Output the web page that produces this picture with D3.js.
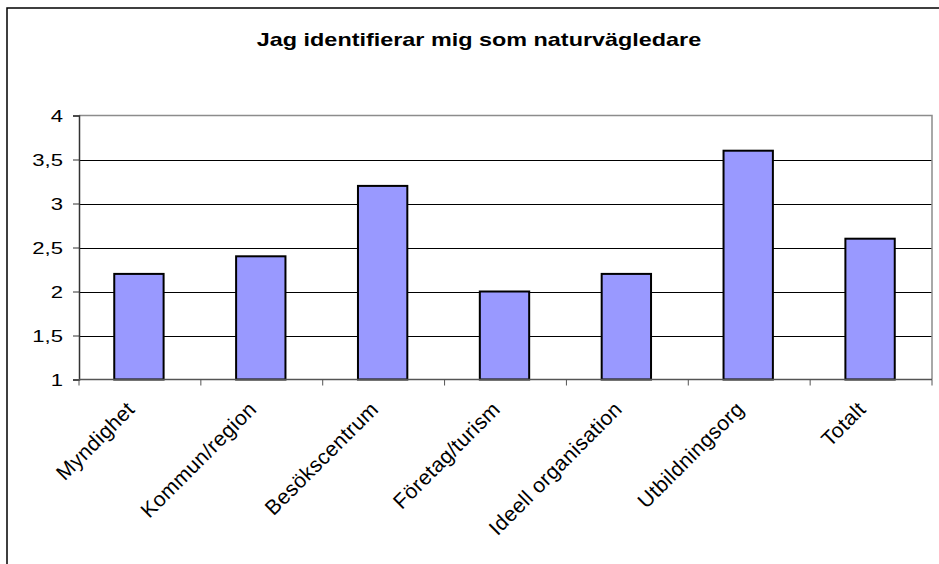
<!DOCTYPE html>
<html>
<head>
<meta charset="utf-8">
<script src="https://cdn.jsdelivr.net/npm/d3@7"></script>
<style>
  body { margin: 0; background: #fff; }
  svg { display: block; font-family: Arial, "Liberation Sans", sans-serif; }
</style>
</head>
<body>
<svg id="chart"></svg>
<script>
// data
var categories = ["Myndighet", "Kommun/region", "Besökscentrum", "Företag/turism",
                  "Ideell organisation", "Utbildningsorg", "Totalt"];
var values = [2.2, 2.4, 3.2, 2.0, 2.2, 3.6, 2.6];
var yTicks = [1, 1.5, 2, 2.5, 3, 3.5, 4];
var title = "Jag identifierar mig som naturvägledare";

var width = 939, height = 564;
var sx = 1.3; // the original text is stretched sideways
var svg = d3.select("#chart").attr("width", width).attr("height", height);

// outer frame (runs off the right/bottom edge like the original)
svg.append("rect")
    .attr("x", 7).attr("y", 8)
    .attr("width", 960).attr("height", 600)
    .attr("fill", "none")
    .attr("stroke", "#000")
    .attr("stroke-width", 1.5);

var plotLeft = 79, plotRight = 932, plotTop = 115.5, plotBottom = 379.5;

var x = d3.scaleBand().domain(categories).range([plotLeft, plotRight]).padding(0);
var y = d3.scaleLinear().domain([1, 4]).range([plotBottom, plotTop]);

// gridlines
svg.append("g").selectAll("line")
    .data(yTicks.filter(function (d) { return d > 1 && d < 4; }))
    .enter().append("line")
    .attr("x1", plotLeft).attr("x2", plotRight)
    .attr("y1", function (d) { return Math.round(y(d)) + 0.5; })
    .attr("y2", function (d) { return Math.round(y(d)) + 0.5; })
    .attr("stroke", "#000")
    .attr("stroke-width", 1);

// plot border top/right (gray)
svg.append("path")
    .attr("d", "M" + plotLeft + "," + plotTop + "H" + plotRight + "V" + plotBottom)
    .attr("fill", "none")
    .attr("stroke", "#8c8c8c")
    .attr("stroke-width", 1.5);

// bars
var barW = x.bandwidth() * 0.405;
svg.append("g").selectAll("rect")
    .data(values)
    .enter().append("rect")
    .attr("x", function (d, i) { return x(categories[i]) + x.bandwidth() / 2 - barW / 2 - 1; })
    .attr("y", function (d) { return y(d); })
    .attr("width", barW)
    .attr("height", function (d) { return y(1) - y(d); })
    .attr("fill", "#9999ff")
    .attr("stroke", "#000")
    .attr("stroke-width", 2);

// y axis
var yAxis = d3.axisLeft(y).tickValues(yTicks).tickSize(6).tickPadding(10)
    .tickFormat(function (d) { return String(d).replace(".", ","); });
var gy = svg.append("g").attr("transform", "translate(" + plotLeft + ",0)").call(yAxis);
gy.select(".domain").attr("stroke", "#333").attr("stroke-width", 1.5);
gy.selectAll(".tick line").attr("stroke", "#333");
gy.selectAll(".tick text")
    .attr("font-size", "17px").attr("fill", "#000")
    .attr("font-family", "Arial, 'Liberation Sans', sans-serif")
    .attr("x", -16 / sx)
    .attr("dy", "0.36em")
    .attr("transform", "scale(" + sx + ",1)");

// x axis: ticks at category boundaries
var gx = svg.append("g");
gx.append("line")
    .attr("x1", plotLeft).attr("x2", plotRight)
    .attr("y1", plotBottom).attr("y2", plotBottom)
    .attr("stroke", "#555").attr("stroke-width", 1.5);
gx.selectAll("line.tk")
    .data(categories.concat(["end"]))
    .enter().append("line")
    .attr("class", "tk")
    .attr("x1", function (d, i) { return plotLeft + i * x.bandwidth(); })
    .attr("x2", function (d, i) { return plotLeft + i * x.bandwidth(); })
    .attr("y1", plotBottom).attr("y2", plotBottom + 6)
    .attr("stroke", "#555").attr("stroke-width", 1);

gx.selectAll("text")
    .data(categories)
    .enter().append("text")
    .attr("transform", function (d) {
        return "translate(" + (x(d) + x.bandwidth() / 2 - 4) + "," + (plotBottom + 31) + ") rotate(-45)";
    })
    .attr("text-anchor", "end")
    .attr("font-size", "21px")
    .attr("letter-spacing", "0.4px")
    .attr("fill", "#000")
    .text(function (d) { return d; });

// title
svg.append("text")
    .attr("transform", "translate(479,46) scale(" + sx + ",1)")
    .attr("text-anchor", "middle")
    .attr("font-size", "18px")
    .attr("font-weight", "bold")
    .text(title);
</script>
</body>
</html>
